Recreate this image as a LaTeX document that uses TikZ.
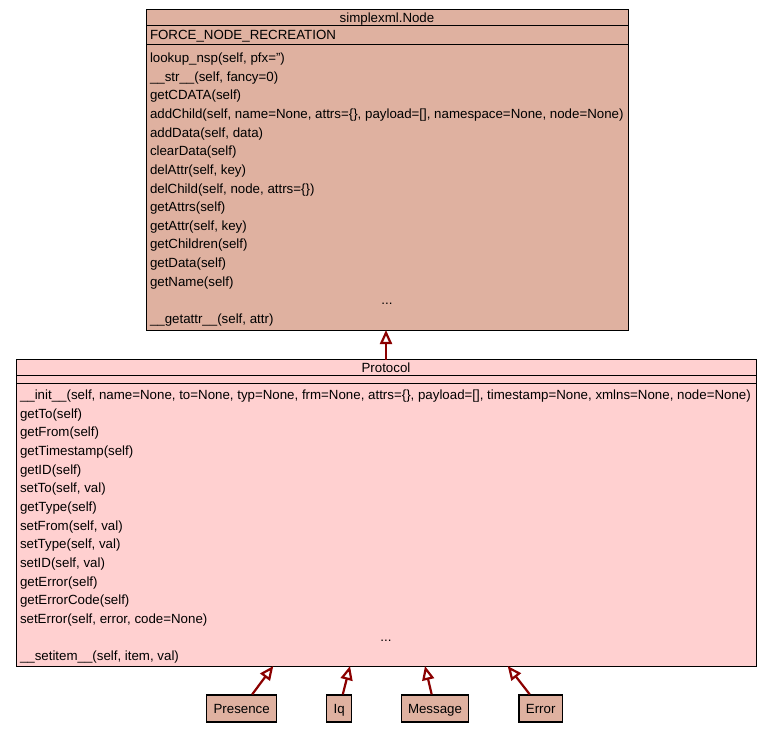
\documentclass[tikz,border=0pt]{standalone}
\usepackage{fontspec}
\setmainfont{Liberation Sans}
\usetikzlibrary{arrows.meta}
\definecolor{nodefill}{RGB}{223,177,160}
\definecolor{protofill}{RGB}{255,208,208}
\definecolor{arrowred}{RGB}{139,0,0}
\begin{document}
\begin{tikzpicture}[x=1pt,y=-1pt,
  compart/.style={draw=black,line width=1pt,inner sep=0pt,outer sep=0pt,anchor=north west},
  mtext/.style={font=\fontsize{13.3}{15}\selectfont,inner sep=0pt,outer sep=0pt,anchor=base west},
  ctext/.style={font=\fontsize{13.3}{15}\selectfont,inner sep=0pt,outer sep=0pt,anchor=base},
  inh/.style={draw=arrowred,line width=2.2pt,-{Triangle[open,length=14pt,width=12pt]}},
  smallbox/.style={draw=black,line width=1.3pt,fill=nodefill,minimum height=27pt,inner sep=0pt,
    text height=9.6pt,text depth=0pt,font=\fontsize{13.3}{15}\selectfont}]
\useasboundingbox (0,0) rectangle (772,733);

% simplexml.Node
\node[compart,fill=nodefill,minimum width=482.5pt,minimum height=16pt] (nodetitle) at (146,10) {};
\node[compart,fill=nodefill,minimum width=482.5pt,minimum height=18.5pt] (nodeattr) at (146,26) {};
\node[compart,fill=nodefill,minimum width=482.5pt,minimum height=285.5pt] (nodemeth) at (146,44.5) {};
\node[ctext] (nodename) at (387,22.5) {simplexml.Node};
\node[mtext] (nodeattr1) at (150,40) {FORCE\_NODE\_RECREATION};
\foreach \t [count=\i from 0] in {
  {lookup\_nsp(self, pfx=\char39\char39)},
  {\_\_str\_\_(self, fancy=0)},
  {getCDATA(self)},
  {addChild(self, name=None, attrs=\{\}, payload=[], namespace=None, node=None)},
  {addData(self, data)},
  {clearData(self)},
  {delAttr(self, key)},
  {delChild(self, node, attrs=\{\})},
  {getAttrs(self)},
  {getAttr(self, key)},
  {getChildren(self)},
  {getData(self)},
  {getName(self)}}
  \node[mtext] (nm\i) at (150,62.5+\i*18.65) {\t};
\node[ctext] (nmdots) at (387,62.5+13*18.65) {...};
\node[mtext] (nmlast) at (150,62.5+14*18.65) {\_\_getattr\_\_(self, attr)};

% Protocol
\node[compart,fill=protofill,minimum width=740pt,minimum height=16pt] (protitle) at (16,359.5) {};
\node[compart,fill=protofill,minimum width=740pt,minimum height=8pt] (proattr) at (16,375.5) {};
\node[compart,fill=protofill,minimum width=740pt,minimum height=282.5pt] (prometh) at (16,383.5) {};
\node[ctext] (proname) at (386,372) {Protocol};
\foreach \t [count=\i from 0] in {
  {\_\_init\_\_(self, name=None, to=None, typ=None, frm=None, attrs=\{\}, payload=[], timestamp=None, xmlns=None, node=None)},
  {getTo(self)},
  {getFrom(self)},
  {getTimestamp(self)},
  {getID(self)},
  {setTo(self, val)},
  {getType(self)},
  {setFrom(self, val)},
  {setType(self, val)},
  {setID(self, val)},
  {getError(self)},
  {getErrorCode(self)},
  {setError(self, error, code=None)}}
  \node[mtext] (pm\i) at (20,399.5+\i*18.65) {\t};
\node[ctext] (pmdots) at (386,399.5+13*18.65) {...};
\node[mtext] (pmlast) at (20,399.5+14*18.65) {\_\_setitem\_\_(self, item, val)};

% subclasses
\node[smallbox,minimum width=70pt] (presence) at (241.7,708.5) {Presence};
\node[smallbox,minimum width=25pt] (iq) at (339.2,708.5) {Iq};
\node[smallbox,minimum width=66.6pt] (message) at (435,708.5) {Message};
\node[smallbox,minimum width=43.3pt] (error) at (540.7,708.5) {Error};

\coordinate (t1) at (273.3,666);
\coordinate (t2) at (350,666);
\coordinate (t3) at (425,666);
\coordinate (t4) at (507.7,666);

\draw[inh] (protitle.north) -- (protitle.north |- nodemeth.south);
\draw[inh] (presence) -- (t1);
\draw[inh] (iq) -- (t2);
\draw[inh] (message) -- (t3);
\draw[inh] (error) -- (t4);
\end{tikzpicture}
\end{document}
